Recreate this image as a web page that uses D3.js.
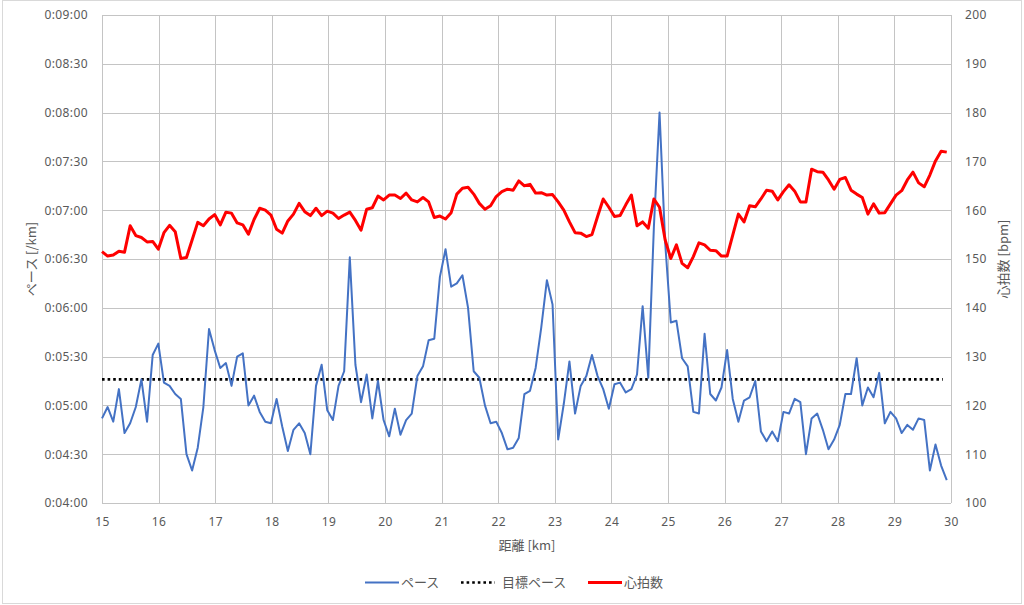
<!DOCTYPE html>
<html>
<head>
<meta charset="utf-8">
<script src="https://cdn.jsdelivr.net/npm/d3@7"></script>
<style>
  body { margin: 0; background: #fff; }
  text { font-family: "Noto Sans", "Noto Sans CJK JP", sans-serif; fill: #595959; }
</style>
</head>
<body>
<svg id="chart" width="1024" height="605"></svg>
<script>
// pace in seconds per km, one point every ~100 m from 15 km
const pace = [292, 299, 290, 310, 283, 289, 299, 316, 290, 331,
  338, 314, 312, 307, 304, 270, 260, 274, 299, 347,
  334, 323, 326, 312, 330, 332, 300, 306, 296, 290,
  289, 304, 287, 272, 285, 289, 283, 270, 312, 325,
  297, 291, 312, 321, 391, 325, 302, 319, 292, 315,
  291, 281, 298, 282, 291, 295, 318, 324, 340, 341,
  379, 396, 373, 375, 380, 360, 321, 317, 300, 289,
  290, 283, 273, 274, 280, 307, 309, 323, 348, 377,
  362, 279, 301, 327, 295, 312, 318, 331, 318, 310,
  298, 313, 314, 308, 310, 319, 361, 317, 410, 480,
  400, 351, 352, 329, 324, 296, 295, 344, 307, 303,
  311, 334, 304, 290, 303, 305, 315, 284, 278, 284,
  278, 296, 295, 304, 302, 270, 292, 295, 285, 273,
  279, 288, 307, 307, 329, 300, 311, 305, 320, 289,
  296, 292, 283, 288, 285, 292, 291, 260, 276, 263, 254];

// heart rate in bpm
const heartRate = [151.5, 150.6, 150.8, 151.6, 151.4, 156.8, 154.8, 154.4, 153.5, 153.6,
  152, 155.4, 156.9, 155.6, 150.1, 150.3, 153.9, 157.5, 156.8, 158.2,
  159.1, 157, 159.6, 159.4, 157.4, 157, 155.1, 158.1, 160.4, 160,
  159, 156.1, 155.3, 157.8, 159.2, 161.4, 159.7, 158.9, 160.4, 158.9,
  159.8, 159.4, 158.3, 159, 159.6, 157.9, 155.9, 160.2, 160.5, 162.9,
  162.1, 163.1, 163.1, 162.4, 163.5, 162.1, 161.7, 162.6, 161.7, 158.5,
  158.8, 158.2, 159.5, 163.3, 164.5, 164.7, 163.3, 161.4, 160.2, 160.9,
  162.8, 163.8, 164.3, 164.1, 166, 165, 165.3, 163.5, 163.6, 163.1,
  163.2, 161.7, 160, 157.6, 155.4, 155.3, 154.6, 155, 158.7, 162.3,
  160.6, 158.7, 158.9, 161.1, 163.1, 156.8, 157.6, 156.3, 162.3, 160.6,
  153.9, 150.1, 152.9, 149.1, 148.2, 150.5, 153.3, 152.9, 151.8, 151.7,
  150.6, 150.6, 154.9, 159.2, 157.6, 160.9, 160.7, 162.3, 164.1, 163.9,
  162.1, 163.8, 165.2, 163.9, 161.7, 161.7, 168.4, 167.9, 167.8, 166.2,
  164.3, 166.3, 166.7, 164.1, 163.3, 162.6, 159.2, 161.3, 159.4, 159.5,
  161.3, 163.1, 164, 166.2, 167.8, 165.6, 164.8, 167.2, 170.1, 172.1, 171.9];

// distance of each point in km (splits slightly under 100 m)
const distance = pace.map((d, i) => 15 + i * 0.0995);

const targetPace = 316;   // 0:05:16
const paceTicks = d3.range(240, 541, 30);
const hrTicks = d3.range(100, 201, 10);
const kmTicks = d3.range(15, 31, 1);

const seriesNames = ["ペース", "目標ペース", "心拍数"];

const svg = d3.select("#chart");
const plotLeft = 102, plotRight = 951, plotTop = 15, plotBottom = 503;

// outer frame
svg.append("rect")
  .attr("x", 2.5).attr("y", 0.5)
  .attr("width", 1019).attr("height", 603)
  .attr("fill", "#fff").attr("stroke", "#d9d9d9");

const x = d3.scaleLinear().domain([15, 30]).range([plotLeft, plotRight]);
const yPace = d3.scaleLinear().domain([240, 540]).range([plotBottom, plotTop]);
const yHr = d3.scaleLinear().domain([100, 200]).range([plotBottom, plotTop]);

// gridlines
const grid = svg.append("g").attr("stroke", "#c4c4c4").attr("stroke-width", 1);
grid.selectAll(".h").data(paceTicks).join("line")
  .attr("x1", plotLeft).attr("x2", plotRight)
  .attr("y1", d => Math.round(yPace(d)) + 0.5).attr("y2", d => Math.round(yPace(d)) + 0.5);
grid.selectAll(".v").data(kmTicks).join("line")
  .attr("y1", plotTop).attr("y2", plotBottom)
  .attr("x1", d => Math.round(x(d)) + 0.5).attr("x2", d => Math.round(x(d)) + 0.5);

const fmt = s => "0:" + String(Math.floor(s / 60)).padStart(2, "0") + ":" + String(s % 60).padStart(2, "0");

// axes
const axL = svg.append("g").attr("transform", `translate(${plotLeft},0)`)
  .call(d3.axisLeft(yPace).tickValues(paceTicks).tickFormat(fmt).tickSize(0).tickPadding(14));
const axR = svg.append("g").attr("transform", `translate(${plotRight},0)`)
  .call(d3.axisRight(yHr).tickValues(hrTicks).tickSize(0).tickPadding(14));
const axB = svg.append("g").attr("transform", `translate(0,${plotBottom})`)
  .call(d3.axisBottom(x).tickValues(kmTicks).tickSize(0).tickPadding(14));
[axL, axR, axB].forEach(a => {
  a.select(".domain").remove();
  a.selectAll("text").attr("font-size", 12).attr("fill", "#595959")
    .style("font-family", "'Noto Sans', sans-serif").style("letter-spacing", "0.4px");
});

// axis titles
svg.append("text").attr("transform", "translate(36,259) rotate(-90)")
  .attr("text-anchor", "middle").attr("font-size", 13)
  .style("font-family", "'Noto Sans CJK JP', sans-serif").text("ペース [/km]");
svg.append("text").attr("transform", "translate(1008,259) rotate(-90)")
  .attr("text-anchor", "middle").attr("font-size", 13)
  .style("font-family", "'Noto Sans CJK JP', sans-serif").text("心拍数 [bpm]");
svg.append("text").attr("x", 527).attr("y", 550)
  .attr("text-anchor", "middle").attr("font-size", 13)
  .style("font-family", "'Noto Sans CJK JP', sans-serif").text("距離 [km]");

// target pace
svg.append("line")
  .attr("x1", x(distance[0])).attr("x2", x(distance[distance.length - 1]) - 4)
  .attr("y1", yPace(targetPace)).attr("y2", yPace(targetPace))
  .attr("stroke", "#000").attr("stroke-width", 2.6)
  .attr("stroke-dasharray", "2.6,3");

// pace line
svg.append("path")
  .datum(pace)
  .attr("fill", "none").attr("stroke", "#4472c4").attr("stroke-width", 2)
  .attr("stroke-linejoin", "round")
  .attr("d", d3.line().x((d, i) => x(distance[i])).y(d => yPace(d)));

// heart rate line
svg.append("path")
  .datum(heartRate)
  .attr("fill", "none").attr("stroke", "#ff0000").attr("stroke-width", 3)
  .attr("stroke-linejoin", "round")
  .attr("d", d3.line().x((d, i) => x(distance[i])).y(d => yHr(d)));

// legend
const legend = svg.append("g").style("font-family", "'Noto Sans CJK JP', sans-serif");
const items = [
  {name: seriesNames[0], x: 365, color: "#4472c4", w: 2, dash: null},
  {name: seriesNames[1], x: 461, color: "#000", w: 2.6, dash: "2.6,3"},
  {name: seriesNames[2], x: 588, color: "#ff0000", w: 3, dash: null}
];
items.forEach(it => {
  legend.append("line")
    .attr("x1", it.x).attr("x2", it.x + 34).attr("y1", 582.5).attr("y2", 582.5)
    .attr("stroke", it.color).attr("stroke-width", it.w)
    .attr("stroke-dasharray", it.dash);
  legend.append("text").attr("x", it.x + (it.dash ? 41 : 36)).attr("y", 587)
    .attr("font-size", 13).text(it.name);
});
</script>
</body>
</html>
